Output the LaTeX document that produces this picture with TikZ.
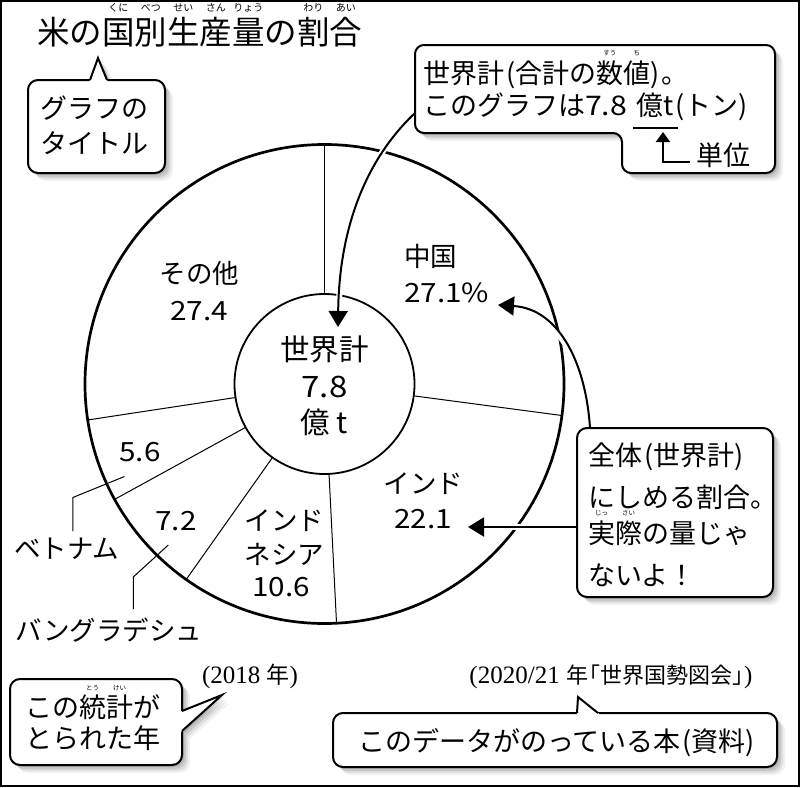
\documentclass[tikz,border=0pt]{standalone}
\usepackage{fontspec}
\setmainfont{Noto Sans CJK JP}
\newfontfamily\sernum{Liberation Serif}
\usetikzlibrary{arrows.meta}
\newcommand\myfs[1]{\fontsize{#1}{#1}\selectfont}
% ruby: base, ruby text, ruby size, raise
\newcommand\rb[4]{\setbox0=\hbox{#1}\leavevmode\rlap{\hbox to \wd0{\hss\raisebox{#4pt}{\myfs{#3}#2}\hss}}\box0}
% underline for unit
\newcommand\ulx[1]{\setbox0=\hbox{#1}\leavevmode\rlap{\kern-3pt\raisebox{-13.7pt}{\rule{\dimexpr\wd0+8pt\relax}{2pt}}}\box0}
% wider digits
\newcommand\dg[1]{\scalebox{1.12}[1]{#1}}
% spaced parentheses
\newcommand\lp{\kern2pt(}
\newcommand\rp{)\kern2pt}
% soft drop shadow
\newcommand\shadowof[1]{\foreach \sx/\sop in {2/0.10,4/0.10,6/0.08,8/0.05}{\fill[black,opacity=\sop,shift={(\sx,\sx)}] #1;}}
\begin{document}
\begin{tikzpicture}[x=1pt,y=-1pt,
  lbl/.style={font=\myfs{26.5}, inner sep=0pt, text height=20.1pt, text depth=0pt},
  ctext/.style={font=\myfs{27}, inner sep=0pt, text height=20.5pt, text depth=0pt},
  wtext/.style={font=\myfs{29.5}, inner sep=0pt, text height=22.4pt, text depth=0pt},
  note/.style={font=\myfs{25}, inner sep=0pt, text height=16.9pt, text depth=0pt},
  boxline/.style={draw=black, fill=white, line width=2pt, rounded corners=10pt},
  tailline/.style={draw=black, line width=2pt},
  conn/.style={line width=2pt, -{Triangle[length=16pt,width=19pt]}, preaction={draw=white, line width=6pt, -}},
  unitarrow/.style={line width=2pt, -{Triangle[length=10pt,width=14pt]}},
  thinline/.style={line width=1pt},
  divider/.style={line width=1pt},
]
\useasboundingbox (0,0) rectangle (800,787);
\fill[white] (0,0) rectangle (800,787);
\draw[line width=2pt] (1,1) rectangle (799,786);

% ---- title ----
\node[font=\myfs{32.5}, inner sep=0pt, text height=24.7pt, text depth=0pt] (title) at (199.5,32)
 {米の\rb{国}{くに}{10}{33}\rb{別}{べつ}{10}{33}\rb{生}{せい}{10}{33}\rb{産}{さん}{10}{33}\rb{量}{りょう}{10}{33}の\rb{割}{わり}{10}{33}\rb{合}{あい}{10}{33}};

% ---- pie ----
\coordinate (O) at (324.5,384);
\draw[line width=2.7pt] (O) circle[radius=239.5];
\foreach \a in {0,97.56,177.12,215.28,241.2,261.36}{
  \draw[divider] ({324.5+89*sin(\a)},{384-89*cos(\a)}) -- ({324.5+239.5*sin(\a)},{384-239.5*cos(\a)});
}
\node[circle, draw, line width=1.8pt, fill=white, minimum size=180pt, inner sep=0pt] (world) at (O) {};
\node[wtext] (w1) at (324.5,349) {世界計};
\node[wtext] (w2) at (324.5,386) {\dg{7.8}};
\node[wtext] (w3) at (324.5,422) {億 t};

\node[lbl] (others) at (199.5,273) {その他};
\node[lbl] (othersv) at (199,310) {\dg{27.4}};
\node[lbl, anchor=west] (china) at (404,256) {中国};
\node[lbl, anchor=west] (chinav) at (404,292) {\dg{27.1\%}};
\node[lbl] (india) at (423.5,483) {インド};
\node[lbl] (indiav) at (423,518.5) {\dg{22.1}};
\node[lbl] (idn1) at (284.5,520) {インド};
\node[lbl] (idn2) at (284.5,554) {ネシア};
\node[lbl] (idn3) at (281,586) {\dg{10.6}};
\node[lbl] (bdv) at (176,520) {\dg{7.2}};
\node[lbl] (vnv) at (140,451) {\dg{5.6}};
\node[lbl] (vn) at (66.7,548) {ベトナム};
\node[lbl] (bd) at (109,630) {バングラデシュ};

\coordinate (vnA) at (124.5,476.5); \coordinate (vnB) at (72.8,497.5); \coordinate (vnC) at (72.8,531);
\draw[thinline] (vnA) -- (vnB) -- (vnC);
\coordinate (bdA) at (168.3,545); \coordinate (bdB) at (133.3,577); \coordinate (bdC) at (133.3,609);
\draw[thinline] (bdA) -- (bdB) -- (bdC);

% ---- connectors ----
\coordinate (bS) at (415,113); \coordinate (wT) at (338,327);
\draw[conn] (bS) .. controls (362,163) and (339,235) .. (wT);
\coordinate (cS) at (590,428); \coordinate (chT) at (498,305);
\draw[conn] (cS) .. controls (586,365) and (560,309) .. (chT);
\coordinate (cS2) at (577,527); \coordinate (inT) at (468,527);
\draw[conn] (cS2) -- (inT);

% ---- callout: graph title ----
\shadowof{[rounded corners=10pt] (28,80) rectangle (165,173) [sharp corners] (90,80) -- (98,58) -- (107,80) -- cycle}
\path[boxline] (28,80) rectangle (165,173);
\fill[white] (88.9,83) -- (98,58) -- (108.2,83) -- cycle;
\draw[tailline] (90,80) -- (98,58) -- (107,80);
\node[ctext, anchor=west] (a1) at (40,108) {グラフの};
\node[ctext, anchor=west] (a2) at (40,143) {タイトル};

% ---- callout: world total ----
\shadowof{[rounded corners=9pt] (500,45) -- (775,45) -- (775,173) -- (622,173) -- (622,133) -- (415,133) -- (415,45) -- cycle}
\path[boxline, rounded corners=9pt] (500,45) -- (775,45) -- (775,173) -- (622,173) -- (622,133) -- (415,133) -- (415,45) -- cycle;
\node[ctext, anchor=west] (b1) at (423,73) {世界計\lp 合計の\rb{数}{すう}{6.5}{27.8}\rb{値}{ち}{6.5}{27.8}\rp。};
\node[ctext, anchor=west] (b2) at (423,105) {このグラフは\dg{7.8}\kern9pt\ulx{億t}\lp トン\rp};
\node[ctext] (tani) at (723.5,155) {単位};
\coordinate (taniS) at (690,162); \coordinate (ulT) at (663,132);
\draw[unitarrow] (taniS) -| (ulT);

% ---- callout: share ----
\shadowof{[rounded corners=10pt] (577,428) rectangle (773,597)}
\path[boxline] (577,428) rectangle (773,597);
\node[ctext, anchor=west] (c1) at (588,455) {全体\lp 世界計\rp};
\node[ctext, anchor=west] (c2) at (588,497) {にしめる割合。};
\node[ctext, anchor=west] (c3) at (588,533) {\rb{実}{じっ}{6.5}{27.8}\rb{際}{さい}{6.5}{27.8}の量じゃ};
\node[ctext, anchor=west] (c4) at (588,575) {ないよ！};

% ---- callout: year ----
\shadowof{[rounded corners=10pt] (10,679) rectangle (182,765) [sharp corners] (182,711) -- (222,695) -- (182,731) -- cycle}
\path[boxline] (10,679) rectangle (182,765);
\fill[white] (179,712.2) -- (222,695) -- (179,733.7) -- cycle;
\draw[tailline] (182,711) -- (222,695) -- (182,731);
\node[ctext, anchor=west] (d1) at (25,707) {この\rb{統}{とう}{6.5}{26.8}\rb{計}{けい}{6.5}{26.8}が};
\node[ctext, anchor=west] (d2) at (25,738) {とられた年};
\node[note] (yr) at (250,675) {{\sernum(2018 }{\myfs{23}年}{\sernum)}};

% ---- callout: source ----
\shadowof{[rounded corners=10pt] (333,713) rectangle (777,767) [sharp corners] (577,713) -- (578,697) -- (598,713) -- cycle}
\path[boxline] (333,713) rectangle (777,767);
\fill[white] (576.8,716) -- (578,697) -- (601.75,716) -- cycle;
\draw[tailline] (577,713) -- (578,697) -- (598,713);
\node[ctext] (e1) at (557.5,741) {このデータがのっている本\lp 資料\rp};
\node[note] (src) at (611,675) {{\sernum(2020/21 }{\myfs{22}年\kern-0.45em「世界国勢図会」\kern-0.45em}{\sernum)}};
\end{tikzpicture}
\end{document}
